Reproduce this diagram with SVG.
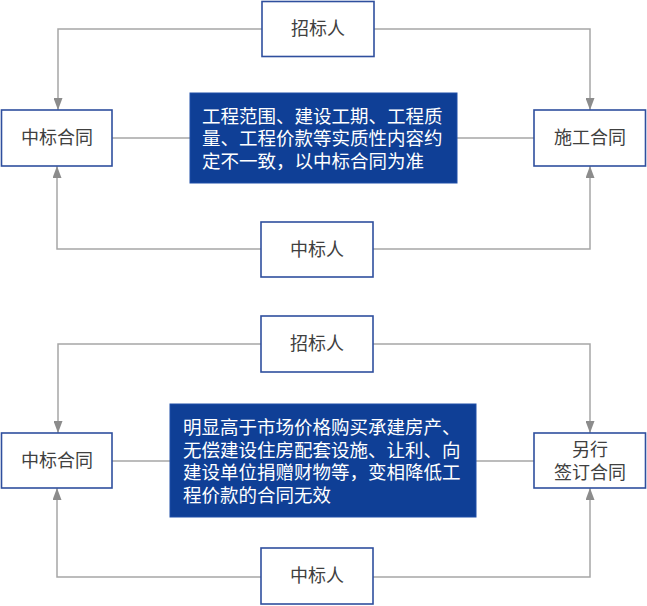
<svg xmlns="http://www.w3.org/2000/svg" width="647" height="606" viewBox="0 0 647 606">
<defs>
<marker id="arr" viewBox="0 0 12 9" refX="12" refY="4.5" markerWidth="12" markerHeight="9" markerUnits="userSpaceOnUse" orient="auto">
<path d="M0,0 L12,4.5 L0,9 z" fill="#8c8c8c"/>
</marker>
<style>
.box{fill:#fff;stroke:#2f4f9e;stroke-width:1.6}
.core{fill:#0f3f96;stroke:#1e4fa8;stroke-width:1}
.lbl{font-family:"Noto Sans CJK SC","Liberation Sans",sans-serif;font-size:18px;fill:#404040;text-anchor:middle}
.ctx{font-family:"Noto Sans CJK SC","Liberation Sans",sans-serif;font-size:18.5px;fill:#fff}
.ln{fill:none;stroke:#a6a6a6;stroke-width:1.5}
.ar{fill:none;stroke:#a6a6a6;stroke-width:1.5;marker-end:url(#arr)}
</style>
</defs>
<g id="connectors">
<polyline class="ar" points="262,29 58,29 58,110"/>
<polyline class="ar" points="374,29 590,29 590,110"/>
<polyline class="ar" points="261,249 57,249 57,166"/>
<polyline class="ar" points="373,249 590,249 590,166"/>
<line class="ln" x1="112" y1="138" x2="190" y2="138"/>
<line class="ln" x1="457" y1="138" x2="534" y2="138"/>
<polyline class="ar" points="261,344 58,344 58,433"/>
<polyline class="ar" points="373,344 590,344 590,433"/>
<polyline class="ar" points="261,577 57,577 57,488"/>
<polyline class="ar" points="373,577 590,577 590,488"/>
<line class="ln" x1="112" y1="461" x2="170" y2="461"/>
<line class="ln" x1="476" y1="461" x2="534" y2="461"/>
</g>
<g id="n1-zhaobiaoren"><rect class="box" x="262" y="1.5" width="112" height="55"/><text class="lbl" x="318" y="35">招标人</text></g>
<g id="n1-zhongbiaohetong"><rect class="box" x="1.5" y="110" width="110.5" height="56"/><text class="lbl" x="57" y="144">中标合同</text></g>
<g id="n1-shigonghetong"><rect class="box" x="534" y="110" width="111.5" height="56"/><text class="lbl" x="590" y="144">施工合同</text></g>
<g id="n1-core"><rect class="core" x="190" y="93" width="267" height="90"/>
<text class="ctx" x="202" y="123">工程范围、建设工期、工程质</text>
<text class="ctx" x="202" y="145">量、工程价款等实质性内容约</text>
<text class="ctx" x="202" y="168">定不一致，以中标合同为准</text></g>
<g id="n1-zhongbiaoren"><rect class="box" x="261" y="222" width="112" height="55"/><text class="lbl" x="317" y="256">中标人</text></g>
<g id="n2-zhaobiaoren"><rect class="box" x="261" y="316" width="112" height="56"/><text class="lbl" x="317" y="350">招标人</text></g>
<g id="n2-zhongbiaohetong"><rect class="box" x="1.5" y="433" width="110.5" height="55"/><text class="lbl" x="57" y="467">中标合同</text></g>
<g id="n2-lingxing"><rect class="box" x="534" y="433" width="111.5" height="55"/><text class="lbl" x="590" y="456">另行</text><text class="lbl" x="590" y="479">签订合同</text></g>
<g id="n2-core"><rect class="core" x="170" y="404" width="306" height="113"/>
<text class="ctx" x="183" y="434">明显高于市场价格购买承建房产、</text>
<text class="ctx" x="183" y="457">无偿建设住房配套设施、让利、向</text>
<text class="ctx" x="183" y="479">建设单位捐赠财物等，变相降低工</text>
<text class="ctx" x="183" y="502">程价款的合同无效</text></g>
<g id="n2-zhongbiaoren"><rect class="box" x="261" y="548" width="112" height="56"/><text class="lbl" x="317" y="582">中标人</text></g>
</svg>
